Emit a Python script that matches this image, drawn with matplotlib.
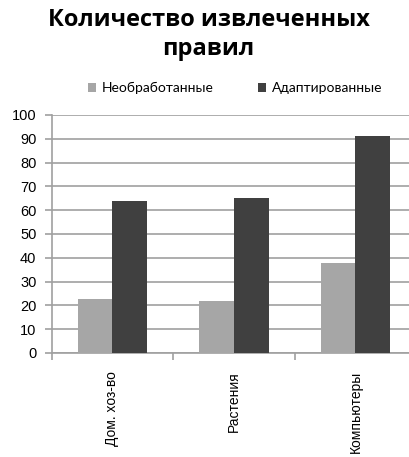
import matplotlib.pyplot as plt
import numpy as np

categories = ["Дом. хоз-во", "Растения", "Компьютеры"]
raw = [22.7, 21.7, 37.7]
adapted = [64, 65, 91]
series_names = ["Необработанные", "Адаптированные"]

plt.rcParams['font.family'] = ['Liberation Sans', 'DejaVu Sans']

fig = plt.figure(figsize=(4.09, 4.57), dpi=100)
ax = fig.add_axes([0.1264, 0.2276, 0.891, 0.5208])

x = np.arange(len(categories))
w = 0.286
ax.bar(x - w / 2, raw, w, color='#a6a6a6', label=series_names[0], zorder=3)
ax.bar(x + w / 2, adapted, w, color='#404040', label=series_names[1], zorder=3)

ax.set_xlim(-0.5, len(categories) - 0.5)
ax.set_ylim(0, 100)
ax.set_yticks(range(0, 101, 10))
ax.yaxis.grid(True, color='#a0a0a0', linewidth=1.2, zorder=0)

for s in ['top', 'right']:
    ax.spines[s].set_visible(False)
for s in ['left', 'bottom']:
    ax.spines[s].set_color('#a0a0a0')
    ax.spines[s].set_linewidth(1.2)

ax.set_xticks(x)
ax.set_xticklabels(categories, rotation=90, fontsize=10)
ax.tick_params(axis='x', length=0, pad=13)
ax.set_xticks(np.arange(len(categories) + 1) - 0.5, minor=True)
ax.tick_params(axis='x', which='minor', length=5, color='#a0a0a0', width=1.2)
ax.tick_params(axis='y', length=5, color='#a0a0a0', width=1.2, labelsize=10.5, pad=6)

fig.text(0.51, 0.925, "Количество извлеченных\nправил", ha='center', va='center',
         fontsize=17, fontweight='bold', family=['Open Sans', 'DejaVu Sans'],
         linespacing=1.3)

fig.legend(loc='center', bbox_to_anchor=(0.575, 0.807), ncol=2, frameon=False,
           handlelength=0.6, handleheight=0.6, columnspacing=3.2,
           handletextpad=0.4, prop={'family': ['Lato', 'DejaVu Sans'], 'size': 10})

fig.savefig('out.png', dpi=100)
